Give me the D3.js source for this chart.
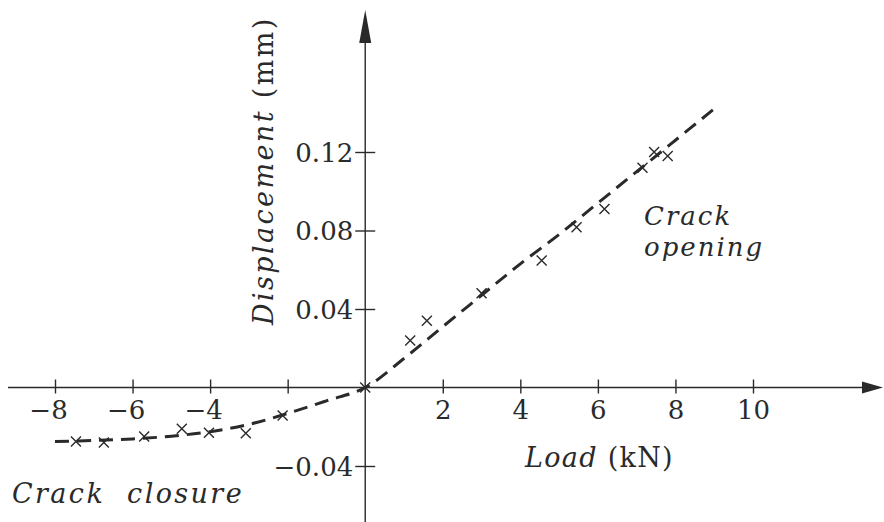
<!DOCTYPE html>
<html><head><meta charset="utf-8">
<script src="https://cdn.jsdelivr.net/npm/d3@7"></script>
<style>body{margin:0;background:#fff}svg{display:block}</style>
</head><body>
<svg id="c" width="884" height="522"></svg>
<script>
// ---- data ----
const xTickValues = [-8, -6, -4, -2, 2, 4, 6, 8, 10];
const xTickLabels = ["\u22128", "\u22126", "\u22124", "", "2", "4", "6", "8", "10"];
const yTickValues = [-0.04, 0.04, 0.08, 0.12];
const yTickLabels = ["\u22120.04", "0.04", "0.08", "0.12"];
// measured points (crosses)
const loadMeasured = [-7.46, -6.74, -5.7, -4.73, -4.03, -3.08, -2.13, 0, 1.16, 1.59, 3.0, 4.55, 5.45, 6.17, 7.15, 7.45, 7.8];
const dispMeasured = [-0.0275, -0.028, -0.025, -0.021, -0.023, -0.0233, -0.0143, 0, 0.024, 0.034, 0.048, 0.0647, 0.0816, 0.091, 0.112, 0.12, 0.118];
// fitted curve (dashed)
const loadCurve = [-8, -7, -6, -5, -4, -3, -2, -1, 0, 1, 2, 3, 4, 5, 6, 7, 8, 9];
const dispCurve = [-0.0275, -0.027, -0.0262, -0.0248, -0.0225, -0.0188, -0.0132, -0.0068, 0, 0.0148, 0.031, 0.047, 0.063, 0.078, 0.094, 0.110, 0.126, 0.142];

const svg = d3.select("#c");
const x = d3.scaleLinear().domain([-8, 10]).range([55, 753]);
const y = d3.scaleLinear().domain([-0.04, 0.12]).range([466, 152]);
const ink = "#2a2a2a";
const font = "'DejaVu Serif', serif";

const x0 = x(0), y0 = y(0);

// axis lines with arrows
svg.append("line").attr("x1", 8).attr("x2", 866).attr("y1", y0).attr("y2", y0)
  .attr("stroke", ink).attr("stroke-width", 1.4);
svg.append("path").attr("d", `M${883},${y0} L${862},${y0-6} L${862},${y0+6} Z`).attr("fill", ink);
svg.append("line").attr("x1", x0).attr("x2", x0).attr("y1", 522).attr("y2", 38)
  .attr("stroke", ink).attr("stroke-width", 1.4);
svg.append("path").attr("d", `M${x0},10 L${x0-6},43 L${x0+6},43 Z`).attr("fill", ink);

// x axis ticks
const xAxis = d3.axisBottom(x).tickValues(xTickValues)
  .tickFormat((d, i) => xTickLabels[i]).tickSize(0).tickPadding(0);
const gx = svg.append("g").attr("transform", `translate(0,${y0})`).call(xAxis);
gx.select(".domain").remove();
gx.selectAll(".tick line").attr("y1", -8).attr("y2", 6).attr("stroke", ink).attr("stroke-width", 1.4);
gx.selectAll(".tick text").attr("y", 31).attr("dy", 0)
  .attr("dx", (d, i) => d < 0 ? -7 : 0)
  .style("font-family", font).style("font-size", "26px").attr("fill", ink);

// y axis ticks
const yAxis = d3.axisLeft(y).tickValues(yTickValues)
  .tickFormat((d, i) => yTickLabels[i]).tickSize(0).tickPadding(0);
const gy = svg.append("g").attr("transform", `translate(${x0},0)`).call(yAxis);
gy.select(".domain").remove();
gy.selectAll(".tick line").attr("x1", -10).attr("x2", 10).attr("stroke", ink).attr("stroke-width", 1.4);
gy.selectAll(".tick text").attr("x", -12).attr("dy", "0.36em")
  .style("font-family", font).style("font-size", "26px").attr("fill", ink);

// dashed curve
const line = d3.line().x((d, i) => x(loadCurve[i])).y((d, i) => y(dispCurve[i])).curve(d3.curveCatmullRom);
svg.append("path").datum(loadCurve).attr("d", line)
  .attr("fill", "none").attr("stroke", ink).attr("stroke-width", 3)
  .attr("stroke-dasharray", "14,8");

// crosses
const s = 5;
svg.append("g").selectAll("path").data(loadMeasured).join("path")
  .attr("d", (d, i) => {
    const cx = x(d), cy = y(dispMeasured[i]);
    return `M${cx-s},${cy-s}L${cx+s},${cy+s}M${cx-s},${cy+s}L${cx+s},${cy-s}`;
  })
  .attr("stroke", ink).attr("stroke-width", 1.4).attr("fill", "none");

// labels
const yl = svg.append("text").attr("transform", `translate(273,325) rotate(-90)`)
  .style("font-family", font).style("font-size", "27px").attr("fill", ink).style("letter-spacing", "2.4px");
yl.append("tspan").style("font-style", "italic").text("Displacement");
yl.append("tspan").text(" (mm)");

const xl = svg.append("text").attr("x", 525).attr("y", 467)
  .style("font-family", font).style("font-size", "27px").attr("fill", ink).style("letter-spacing", "1.3px");
xl.append("tspan").style("font-style", "italic").text("Load");
xl.append("tspan").text(" (kN)");

svg.append("text").attr("x", 644).attr("y", 225).text("Crack")
  .style("font-family", font).style("font-size", "26px").style("font-style", "italic")
  .style("letter-spacing", "2px").attr("fill", ink);
svg.append("text").attr("x", 644).attr("y", 256).text("opening")
  .style("font-family", font).style("font-size", "26px").style("font-style", "italic")
  .style("letter-spacing", "2px").attr("fill", ink);
svg.append("text").attr("x", 12).attr("y", 503).text("Crack  closure")
  .style("font-family", font).style("font-size", "27px").style("font-style", "italic")
  .style("letter-spacing", "2.4px").style("white-space", "pre").attr("fill", ink);
</script>
</body></html>
